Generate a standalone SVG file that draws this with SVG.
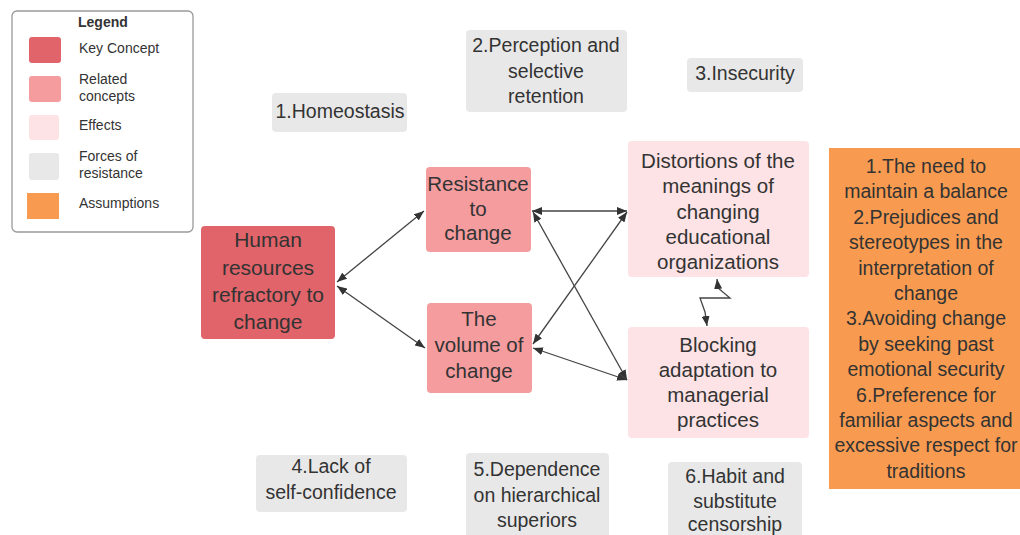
<svg xmlns="http://www.w3.org/2000/svg" width="1020" height="535" viewBox="0 0 1020 535">
  <style>
    text { font-family: "Liberation Sans", Arial, sans-serif; fill: #333; }
    .lg { font-size: 14px; }
    .lgt { font-size: 14px; font-weight: bold; }
    .n { font-size: 20.5px; text-anchor: middle; }
    .nk { font-size: 21px; text-anchor: middle; }
    .g { font-size: 19.5px; text-anchor: middle; }
    .a { font-size: 19.5px; text-anchor: middle; }
    .key { fill: #e0646a; }
    .rel { fill: #f59c9e; }
    .eff { fill: #fde3e5; }
    .force { fill: #e8e8e8; }
    .assum { fill: #f89b50; }
    .conn { fill: none; stroke: #444; stroke-width: 1.3; }
  </style>
  <defs>
    <marker id="arr" markerUnits="userSpaceOnUse" markerWidth="11" markerHeight="8" refX="10" refY="4" orient="auto-start-reverse">
      <path d="M0,0 L10,4 L0,8 z" fill="#333"/>
    </marker>
  </defs>
  <rect width="1020" height="535" fill="#fff"/>

  <!-- Legend -->
  <g id="legend">
    <rect x="12" y="11" width="181" height="221" rx="5" fill="#fff" stroke="#9a9a9a" stroke-width="1.3"/>
    <text class="lgt" x="78" y="27">Legend</text>
    <rect class="key" x="29" y="37" width="32" height="26" rx="3"/>
    <text class="lg" x="79" y="53">Key Concept</text>
    <rect class="rel" x="29" y="76" width="32" height="26" rx="3"/>
    <text class="lg" x="79" y="84">Related</text>
    <text class="lg" x="79" y="101">concepts</text>
    <rect class="eff" x="29" y="115" width="30" height="25" rx="3"/>
    <text class="lg" x="79" y="130">Effects</text>
    <rect class="force" x="29" y="153" width="30" height="27" rx="3"/>
    <text class="lg" x="79" y="161">Forces of</text>
    <text class="lg" x="79" y="178">resistance</text>
    <rect class="assum" x="27" y="193" width="32" height="26"/>
    <text class="lg" x="79" y="208">Assumptions</text>
  </g>

  <!-- Connectors -->
  <g id="connectors">
    <line class="conn" x1="337" y1="282" x2="424" y2="211" marker-start="url(#arr)" marker-end="url(#arr)"/>
    <line class="conn" x1="337" y1="286" x2="425" y2="348" marker-start="url(#arr)" marker-end="url(#arr)"/>
    <line class="conn" x1="532" y1="211" x2="627" y2="211" marker-start="url(#arr)" marker-end="url(#arr)"/>
    <line class="conn" x1="533" y1="212" x2="627" y2="380" marker-start="url(#arr)" marker-end="url(#arr)"/>
    <line class="conn" x1="533" y1="344" x2="627" y2="212" marker-start="url(#arr)" marker-end="url(#arr)"/>
    <line class="conn" x1="533" y1="348" x2="627" y2="380" marker-start="url(#arr)" marker-end="url(#arr)"/>
    <polyline class="conn" points="717,279 718,288 730,298 700,298 705,312 707,326" marker-start="url(#arr)" marker-end="url(#arr)"/>
  </g>

  <!-- Key concept -->
  <g id="human-resources">
    <rect class="key" x="201" y="226" width="134" height="113" rx="4"/>
    <text class="nk" x="268" y="247">Human</text>
    <text class="nk" x="268" y="275">resources</text>
    <text class="nk" x="268" y="302">refractory to</text>
    <text class="nk" x="268" y="329">change</text>
  </g>

  <!-- Related concepts -->
  <g id="resistance-to-change">
    <rect class="rel" x="426" y="167" width="105" height="85" rx="4"/>
    <text class="n" x="478" y="191">Resistance</text>
    <text class="n" x="478" y="216">to</text>
    <text class="n" x="478" y="240">change</text>
  </g>
  <g id="volume-of-change">
    <rect class="rel" x="427" y="303" width="105" height="90" rx="4"/>
    <text class="n" x="479" y="326">The</text>
    <text class="n" x="479" y="352">volume of</text>
    <text class="n" x="479" y="378">change</text>
  </g>

  <!-- Effects -->
  <g id="distortions">
    <rect class="eff" x="628" y="141" width="181" height="136" rx="4"/>
    <text class="n" x="718" y="168">Distortions of the</text>
    <text class="n" x="718" y="193">meanings of</text>
    <text class="n" x="718" y="219">changing</text>
    <text class="n" x="718" y="244">educational</text>
    <text class="n" x="718" y="269">organizations</text>
  </g>
  <g id="blocking-adaptation">
    <rect class="eff" x="628" y="327" width="181" height="111" rx="4"/>
    <text class="n" x="718" y="352">Blocking</text>
    <text class="n" x="718" y="377">adaptation to</text>
    <text class="n" x="718" y="402">managerial</text>
    <text class="n" x="718" y="427">practices</text>
  </g>

  <!-- Forces of resistance -->
  <g id="homeostasis">
    <rect class="force" x="272" y="93" width="135" height="39" rx="4"/>
    <text class="g" x="340" y="118">1.Homeostasis</text>
  </g>
  <g id="perception">
    <rect class="force" x="466" y="30" width="161" height="82" rx="4"/>
    <text class="g" x="546" y="52">2.Perception and</text>
    <text class="g" x="546" y="77.5">selective</text>
    <text class="g" x="546" y="103">retention</text>
  </g>
  <g id="insecurity">
    <rect class="force" x="687" y="58" width="116" height="34" rx="4"/>
    <text class="g" x="745" y="80">3.Insecurity</text>
  </g>
  <g id="self-confidence">
    <rect class="force" x="256" y="455" width="151" height="57" rx="4"/>
    <text class="g" x="331" y="473">4.Lack of</text>
    <text class="g" x="331" y="499">self-confidence</text>
  </g>
  <g id="dependence">
    <rect class="force" x="466" y="453" width="143" height="90" rx="4"/>
    <text class="g" x="537" y="476">5.Dependence</text>
    <text class="g" x="537" y="502">on hierarchical</text>
    <text class="g" x="537" y="527">superiors</text>
  </g>
  <g id="habit">
    <rect class="force" x="668" y="462" width="134" height="80" rx="4"/>
    <text class="g" x="735" y="483">6.Habit and</text>
    <text class="g" x="735" y="508">substitute</text>
    <text class="g" x="735" y="531">censorship</text>
  </g>

  <!-- Assumptions -->
  <g id="assumptions">
    <rect class="assum" x="829" y="148" width="200" height="341"/>
    <text class="a" x="926" y="173">1.The need to</text>
    <text class="a" x="926" y="198.4">maintain a balance</text>
    <text class="a" x="926" y="223.8">2.Prejudices and</text>
    <text class="a" x="926" y="249.2">stereotypes in the</text>
    <text class="a" x="926" y="274.6">interpretation of</text>
    <text class="a" x="926" y="300">change</text>
    <text class="a" x="926" y="325.4">3.Avoiding change</text>
    <text class="a" x="926" y="350.8">by seeking past</text>
    <text class="a" x="926" y="376.2">emotional security</text>
    <text class="a" x="926" y="401.6">6.Preference for</text>
    <text class="a" x="926" y="427">familiar aspects and</text>
    <text class="a" x="926" y="452.4">excessive respect for</text>
    <text class="a" x="926" y="477.8">traditions</text>
  </g>
</svg>
